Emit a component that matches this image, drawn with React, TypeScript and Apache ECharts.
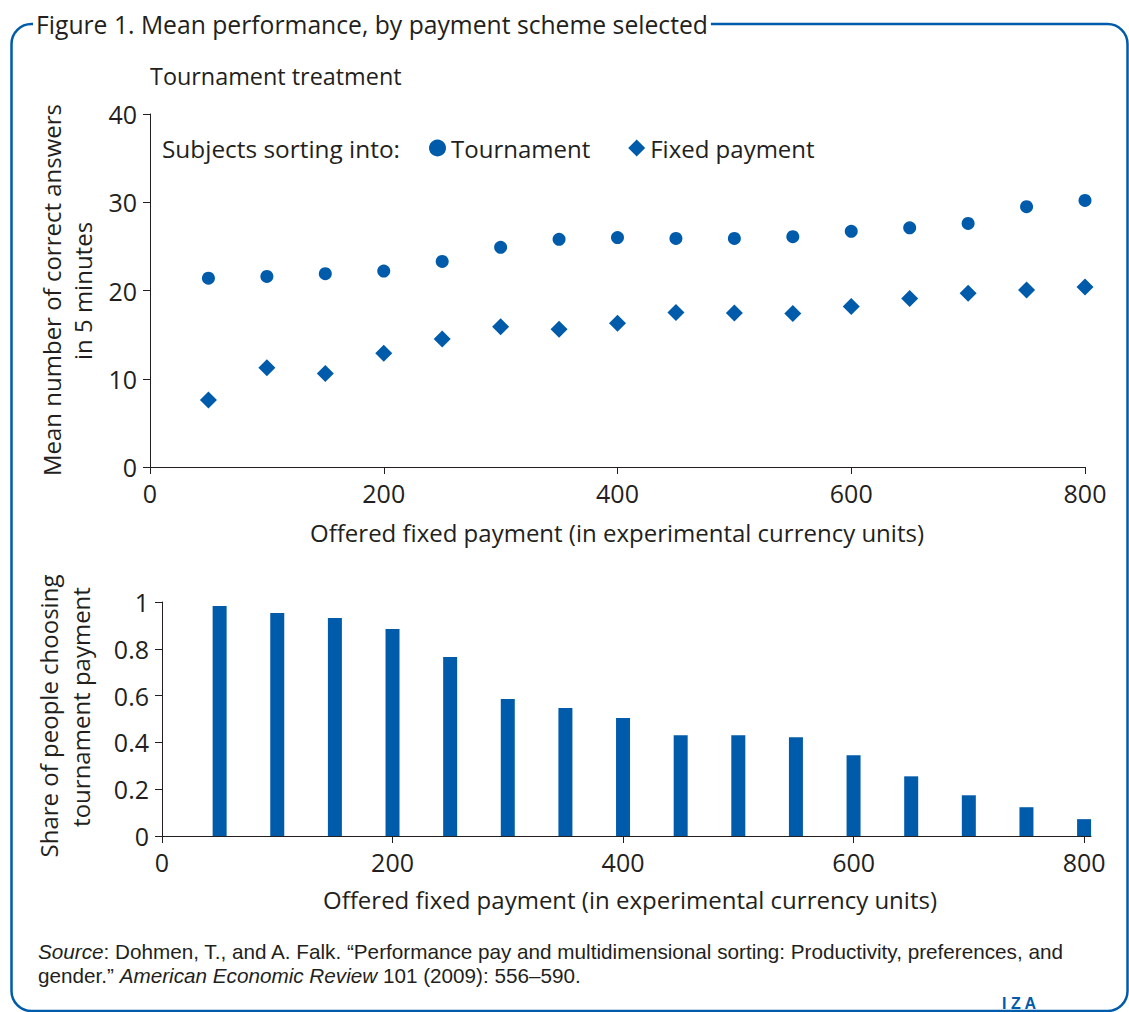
import React, { useEffect, useRef } from "react";
import * as echarts from "echarts";

const xPayments = [50, 100, 150, 200, 250, 300, 350, 400, 450, 500, 550, 600, 650, 700, 750, 800];
const tournamentScores = [21.4, 21.6, 21.9, 22.2, 23.3, 24.9, 25.8, 26.0, 25.9, 25.9, 26.1, 26.7, 27.1, 27.6, 29.5, 30.2];
const fixedScores = [7.6, 11.25, 10.6, 12.9, 14.5, 15.9, 15.6, 16.3, 17.5, 17.45, 17.4, 18.2, 19.1, 19.7, 20.05, 20.4];
const tournamentShare = [0.983, 0.953, 0.932, 0.885, 0.765, 0.585, 0.547, 0.504, 0.431, 0.431, 0.422, 0.345, 0.255, 0.174, 0.123, 0.072];
const xTicks = [0, 200, 400, 600, 800];

const BLUE = "#005BAA";
const INK = "#231F20";
const FONT = '"Open Sans", "Noto Sans", sans-serif';
const SRC = '"Liberation Sans", Arial, sans-serif';

export default function App() {
  const ref = useRef<HTMLDivElement>(null);
  useEffect(() => {
    if (!ref.current) return;
    const chart = echarts.init(ref.current, null, { renderer: "svg" });
    const axisCommon = {
      axisLine: { show: true, lineStyle: { color: INK, width: 1 } },
      axisTick: { show: true, inside: false, length: 7, lineStyle: { color: INK } },
      splitLine: { show: false },
      axisLabel: { color: INK, fontSize: 25, fontFamily: FONT },
    };
    chart.setOption({
      animation: false,
      backgroundColor: "#fff",
      grid: [
        { left: 150, top: 114, width: 935, height: 353 },
        { left: 162, top: 602, width: 929, height: 234 },
      ],
      xAxis: [
        {
          gridIndex: 0, type: "value", min: 0, max: 800, interval: 200,
          ...axisCommon,
          axisLabel: { ...axisCommon.axisLabel, margin: 13 },
        },
        {
          gridIndex: 1, type: "value", min: 0, max: 806,
          ...axisCommon,
          axisTick: { ...axisCommon.axisTick, customValues: xTicks },
          axisLabel: { ...axisCommon.axisLabel, margin: 13, customValues: xTicks },
        },
      ],
      yAxis: [
        {
          gridIndex: 0, type: "value", min: 0, max: 40, interval: 10,
          ...axisCommon,
          axisLabel: { ...axisCommon.axisLabel, margin: 13 },
        },
        {
          gridIndex: 1, type: "value", min: 0, max: 1, interval: 0.2,
          ...axisCommon,
          axisLabel: {
            ...axisCommon.axisLabel, margin: 13,
            formatter: (v: number) => (v === 0 ? "0" : v === 1 ? "1" : v.toFixed(1)),
          },
        },
      ],
      legend: {
        left: 424, top: 131, itemWidth: 17, itemHeight: 17, itemGap: 38,
        textStyle: { fontSize: 24, fontFamily: FONT, color: INK, lineHeight: 24 },
        data: [
          { name: "Tournament", icon: "circle" },
          { name: "Fixed payment", icon: "diamond" },
        ],
      },
      series: [
        {
          name: "Tournament", type: "scatter", xAxisIndex: 0, yAxisIndex: 0,
          symbol: "circle", symbolSize: 13, itemStyle: { color: BLUE, opacity: 1 },
          data: xPayments.map((x, i) => [x, tournamentScores[i]]),
        },
        {
          name: "Fixed payment", type: "scatter", xAxisIndex: 0, yAxisIndex: 0,
          symbol: "diamond", symbolSize: 17, itemStyle: { color: BLUE, opacity: 1 },
          data: xPayments.map((x, i) => [x, fixedScores[i]]),
        },
        {
          name: "Share", type: "bar", xAxisIndex: 1, yAxisIndex: 1,
          barWidth: 14, itemStyle: { color: BLUE },
          data: xPayments.map((x, i) => [x, tournamentShare[i]]),
        },
      ],
      graphic: [
        {
          type: "rect", z: 0,
          shape: { x: 11.5, y: 24, width: 1116, height: 987, r: 20 },
          style: { fill: "none", stroke: BLUE, lineWidth: 2.5 },
        },
        {
          type: "text", x: 33, y: 24, z: 10,
          style: {
            text: "Figure 1. Mean performance, by payment scheme selected",
            fontSize: 24.7, fontFamily: FONT, fill: INK,
            align: "left", verticalAlign: "middle",
            backgroundColor: "#fff", padding: [2, 3, 2, 3],
          },
        },
        {
          type: "text", x: 150, y: 76,
          style: { text: "Tournament treatment", fontSize: 23.4, fontFamily: FONT, fill: INK, align: "left", verticalAlign: "middle" },
        },
        {
          type: "text", x: 162, y: 148,
          style: { text: "Subjects sorting into:", fontSize: 24.4, fontFamily: FONT, fill: INK, align: "left", verticalAlign: "middle" },
        },
        {
          type: "text", x: 51, y: 290, rotation: Math.PI / 2,
          style: { text: "Mean number of correct answers", fontSize: 24, fontFamily: FONT, fill: INK, align: "center", verticalAlign: "middle" },
        },
        {
          type: "text", x: 82, y: 291, rotation: Math.PI / 2,
          style: { text: "in 5 minutes", fontSize: 24, fontFamily: FONT, fill: INK, align: "center", verticalAlign: "middle" },
        },
        {
          type: "text", x: 48, y: 716, rotation: Math.PI / 2,
          style: { text: "Share of people choosing", fontSize: 24, fontFamily: FONT, fill: INK, align: "center", verticalAlign: "middle" },
        },
        {
          type: "text", x: 80, y: 707, rotation: Math.PI / 2,
          style: { text: "tournament payment", fontSize: 24, fontFamily: FONT, fill: INK, align: "center", verticalAlign: "middle" },
        },
        {
          type: "text", x: 617, y: 532,
          style: { text: "Offered fixed payment (in experimental currency units)", fontSize: 24, fontFamily: FONT, fill: INK, align: "center", verticalAlign: "middle" },
        },
        {
          type: "text", x: 630, y: 899,
          style: { text: "Offered fixed payment (in experimental currency units)", fontSize: 24, fontFamily: FONT, fill: INK, align: "center", verticalAlign: "middle" },
        },
        {
          type: "text", x: 38, y: 951,
          style: {
            text: "{i|Source}: Dohmen, T., and A. Falk. \u201CPerformance pay and multidimensional sorting: Productivity, preferences, and",
            fontSize: 20.7, fontFamily: SRC, fill: INK, align: "left", verticalAlign: "middle",
            rich: { i: { fontStyle: "italic", fontSize: 20.7, fontFamily: SRC, fill: INK } },
          },
        },
        {
          type: "text", x: 38, y: 975,
          style: {
            text: "gender.\u201D {i|American Economic Review} 101 (2009): 556\u2013590.",
            fontSize: 20.7, fontFamily: SRC, fill: INK, align: "left", verticalAlign: "middle",
            rich: { i: { fontStyle: "italic", fontSize: 20.7, fontFamily: SRC, fill: INK } },
          },
        },
        {
          type: "text", x: 1002, y: 1003,
          style: { text: "I Z A", fontSize: 16, fontWeight: "bold", fontFamily: SRC, fill: BLUE, align: "left", verticalAlign: "middle" },
        },
      ],
    });
    return () => chart.dispose();
  }, []);
  return <div ref={ref} style={{ position: "fixed", left: 0, top: 0, width: 1129, height: 1012 }} />;
}
